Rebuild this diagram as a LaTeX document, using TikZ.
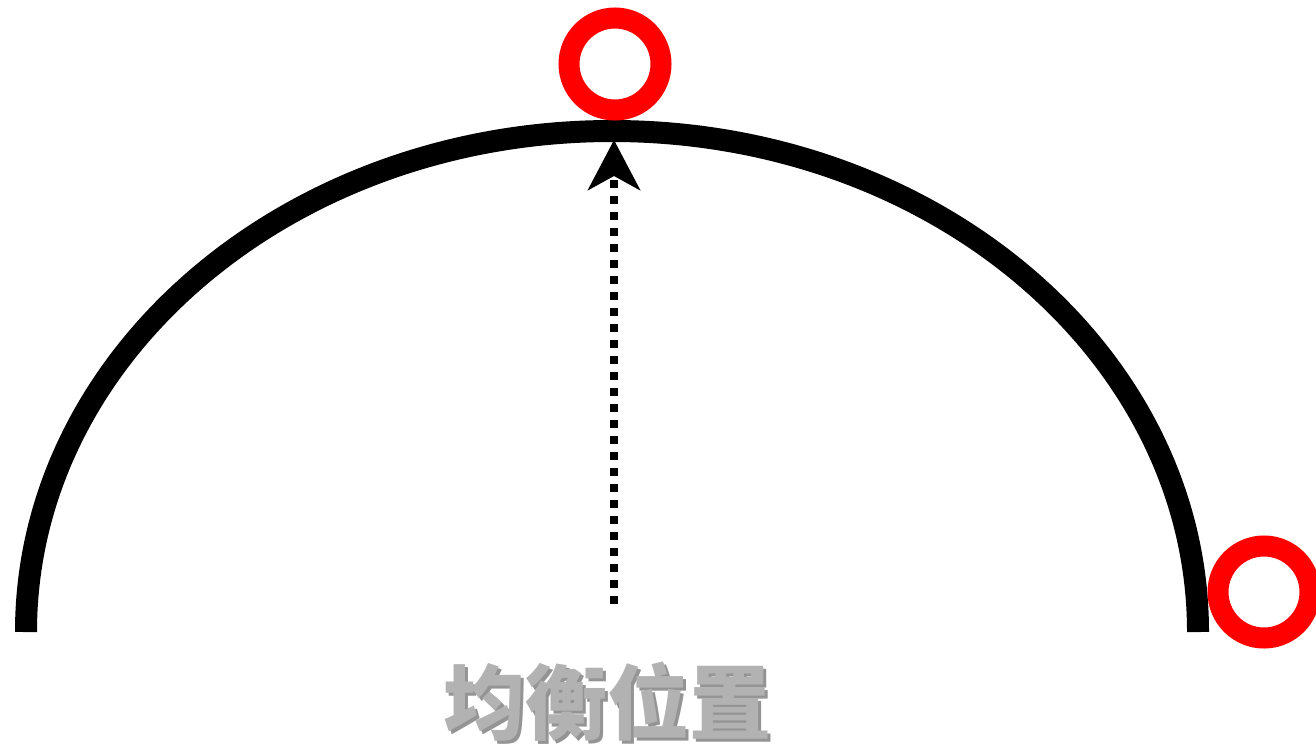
\documentclass[tikz,border=0pt]{standalone}
\usepackage{fontspec}
\usepackage{tikz}
\newfontfamily\cjk{Noto Sans CJK SC}
\usetikzlibrary{arrows,arrows.meta,positioning,calc}

\begin{document}
\begin{tikzpicture}[x=1pt,y=-1pt]
		\useasboundingbox (0,0) rectangle (1316,747);
		\draw [line width=22pt] (26,632) arc [start angle=180, end angle=360, x radius=586, y radius=501];
		\coordinate (peak) at (614,140);
		\coordinate (base) at (614,604);
		\node at (615,64) [circle, draw=red, line width=21pt, minimum size=92pt, inner sep=0pt] (top) {};
		\node at (1264,592) [circle, draw=red, line width=21pt, minimum size=92pt, inner sep=0pt] (side) {};
		\draw [-{Stealth[length=50pt,width=52pt,inset=14pt]}, line width=8pt, dash pattern=on 8pt off 8pt] (base) -- (peak);
		\node at (610,705) [text=black!42, font=\cjk\bfseries\fontsize{82}{88}\selectfont] (shadow) {均衡位置};
		\node at (607,702) [text=black!30, font=\cjk\bfseries\fontsize{82}{88}\selectfont] (label) {均衡位置};
\end{tikzpicture}
\end{document}
